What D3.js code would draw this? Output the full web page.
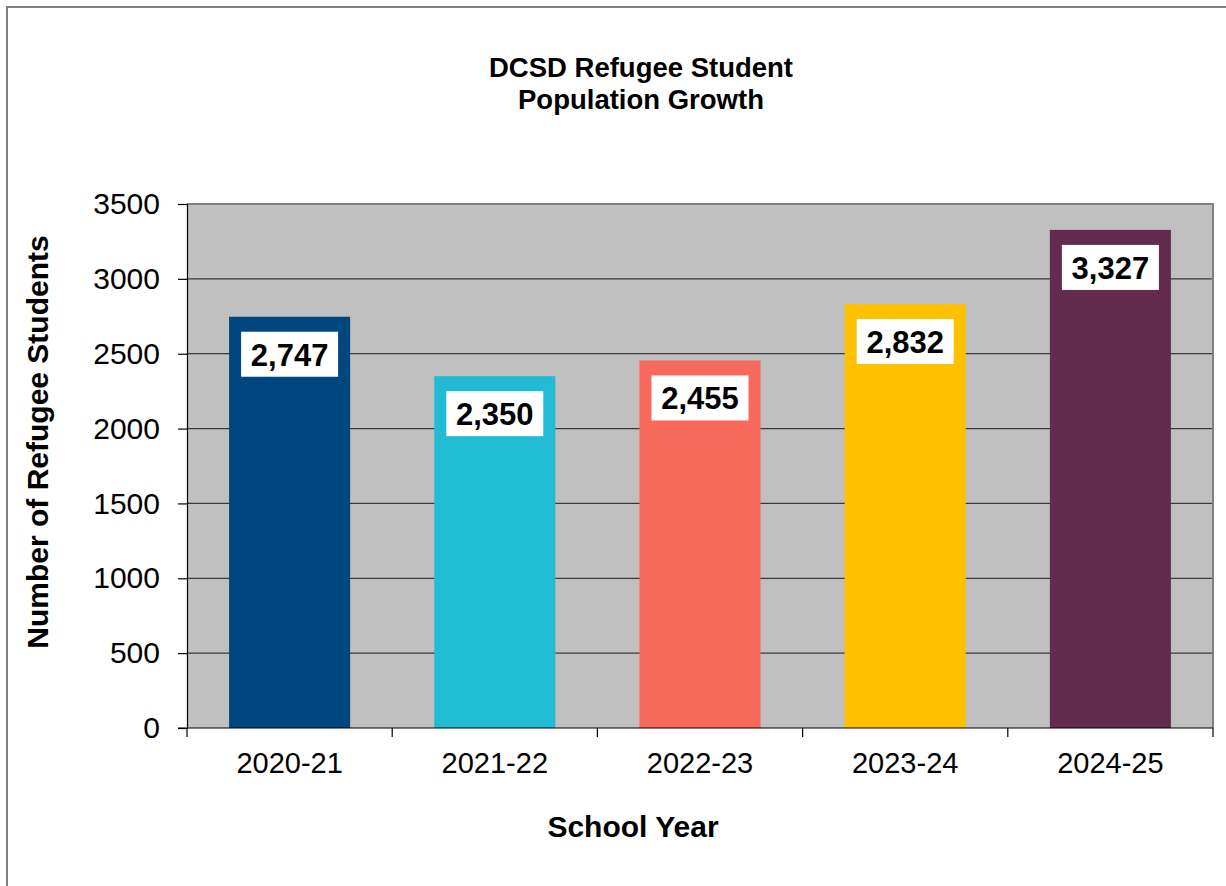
<!DOCTYPE html>
<html>
<head>
<meta charset="utf-8">
<script src="https://cdn.jsdelivr.net/npm/d3@7"></script>
<style>
  html, body { margin: 0; padding: 0; background: #ffffff; }
  svg { display: block; font-family: "Liberation Sans", Arial, Helvetica, sans-serif; }
</style>
</head>
<body>
<svg id="chart" width="1226" height="886"></svg>
<script>
// School years and refugee student counts
const schoolYears = ["2020-21", "2021-22", "2022-23", "2023-24", "2024-25"];
const studentCounts = [2747, 2350, 2455, 2832, 3327];
const barColors = ["#00467F", "#21BCD3", "#F6695B", "#FFC000", "#632B4D"];
const yTicks = [0, 500, 1000, 1500, 2000, 2500, 3000, 3500];
const titleLines = ["DCSD Refugee Student", "Population Growth"];
const yTitle = "Number of Refugee Students";
const xTitle = "School Year";

const svg = d3.select("#chart");

// Outer chart frame
svg.append("rect")
  .attr("x", 7).attr("y", 7)
  .attr("width", 1240).attr("height", 900)
  .attr("fill", "#ffffff")
  .attr("stroke", "#808080").attr("stroke-width", 2);

const plot = { left: 187, right: 1213, top: 204, bottom: 728 };

const x = d3.scaleBand()
  .domain(schoolYears)
  .range([plot.left, plot.right])
  .padding(0);

const y = d3.scaleLinear()
  .domain([0, 3500])
  .range([plot.bottom, plot.top]);

// Plot background
svg.append("rect")
  .attr("x", plot.left).attr("y", plot.top)
  .attr("width", plot.right - plot.left).attr("height", plot.bottom - plot.top)
  .attr("fill", "#C0C0C0");

// Horizontal gridlines
svg.append("g")
  .selectAll("line")
  .data(yTicks.filter(d => d > 0 && d < 3500))
  .join("line")
  .attr("x1", plot.left).attr("x2", plot.right)
  .attr("y1", d => y(d)).attr("y2", d => y(d))
  .attr("stroke", "#3a3a3a").attr("stroke-width", 1.3);

// Top and right plot border
svg.append("path")
  .attr("d", `M${plot.left},${y(3500)}H${plot.right}V${plot.bottom}`)
  .attr("fill", "none")
  .attr("stroke", "#808080").attr("stroke-width", 2);

// Bars
const barFrac = 0.59;
const bars = schoolYears.map((c, i) => ({ c, v: studentCounts[i], color: barColors[i] }));

svg.append("g")
  .selectAll("rect")
  .data(bars)
  .join("rect")
  .attr("x", d => x(d.c) + x.bandwidth() * (1 - barFrac) / 2)
  .attr("width", x.bandwidth() * barFrac)
  .attr("y", d => y(d.v))
  .attr("height", d => y(0) - y(d.v))
  .attr("fill", d => d.color);

// Value labels in white boxes near bar tops
const fmt = d3.format(",");
const lbl = svg.append("g")
  .selectAll("g")
  .data(bars)
  .join("g")
  .attr("transform", d => `translate(${x(d.c) + x.bandwidth() / 2},${y(d.v) + 15})`);

lbl.append("rect")
  .attr("x", -48.5).attr("y", 0)
  .attr("width", 97).attr("height", 45)
  .attr("fill", "#ffffff");

lbl.append("text")
  .attr("x", 0).attr("y", 34)
  .attr("text-anchor", "middle")
  .attr("font-size", 31)
  .attr("font-weight", "bold")
  .attr("fill", "#000")
  .text(d => fmt(d.v));

// Y axis
const yAxis = svg.append("g")
  .attr("transform", `translate(${plot.left},0)`)
  .call(d3.axisLeft(y).tickValues(yTicks).tickSize(9).tickPadding(18).tickFormat(d3.format("d")));
yAxis.select(".domain").attr("stroke", "#000").attr("stroke-width", 1.2);
yAxis.selectAll(".tick line").attr("stroke", "#000").attr("stroke-width", 1.2);
yAxis.selectAll("text")
  .attr("font-size", 30)
  .attr("font-family", "'Liberation Sans', Arial, sans-serif")
  .attr("fill", "#000");

// X axis: baseline, boundary ticks, centred labels
const xAxis = svg.append("g");
xAxis.append("line")
  .attr("x1", plot.left - 9).attr("x2", plot.right)
  .attr("y1", plot.bottom).attr("y2", plot.bottom)
  .attr("stroke", "#000").attr("stroke-width", 1.2);

const edges = schoolYears.map(c => x(c)).concat([x.range()[1]]);
xAxis.selectAll(".edge")
  .data(edges)
  .join("line")
  .attr("class", "edge")
  .attr("x1", d => d).attr("x2", d => d)
  .attr("y1", plot.bottom).attr("y2", plot.bottom + 9)
  .attr("stroke", "#000").attr("stroke-width", 1.2);

xAxis.selectAll(".cat")
  .data(schoolYears)
  .join("text")
  .attr("class", "cat")
  .attr("x", d => x(d) + x.bandwidth() / 2)
  .attr("y", 773)
  .attr("text-anchor", "middle")
  .attr("font-size", 29)
  .attr("fill", "#000")
  .text(d => d);

// Chart title
svg.append("g")
  .selectAll("text")
  .data(titleLines)
  .join("text")
  .attr("x", 641)
  .attr("y", (d, i) => 77 + i * 32)
  .attr("text-anchor", "middle")
  .attr("font-size", 27.5)
  .attr("font-weight", "bold")
  .attr("fill", "#000")
  .text(d => d);

// Axis titles
svg.append("text")
  .attr("transform", `translate(48,442) rotate(-90)`)
  .attr("text-anchor", "middle")
  .attr("font-size", 30)
  .attr("font-weight", "bold")
  .attr("fill", "#000")
  .text(yTitle);

svg.append("text")
  .attr("x", 633)
  .attr("y", 837)
  .attr("text-anchor", "middle")
  .attr("font-size", 30)
  .attr("font-weight", "bold")
  .attr("fill", "#000")
  .text(xTitle);
</script>
</body>
</html>
